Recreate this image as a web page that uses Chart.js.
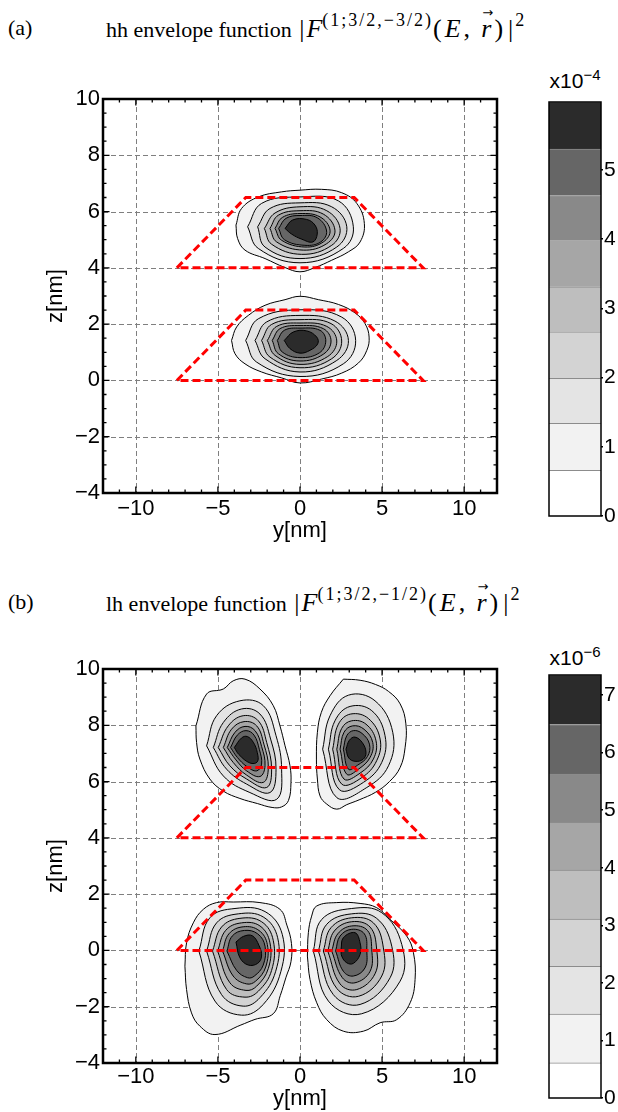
<!DOCTYPE html>
<html lang="en">
<head>
<meta charset="UTF-8">
<title>hh / lh envelope functions</title>
<script src="https://cdn.jsdelivr.net/npm/chart.js@4.4.1/dist/chart.umd.min.js"></script>
<style>
  * { margin: 0; padding: 0; box-sizing: border-box; }
  body { width: 618px; height: 1112px; background: #fff; position: relative; overflow: hidden; }
  canvas { position: absolute; }
  .tag, .ttl {
    position: absolute; white-space: nowrap; line-height: 1; color: #000;
    font-family: 'Liberation Serif', 'Times New Roman', serif; font-size: 22px;
  }
  .ttl .m { font-size: 26px; }
  .ttl .bar { margin: 0 2px; }
  .ttl .ev { letter-spacing: 3px; }
  .ttl sup { font-size: 18px; letter-spacing: 2px; position: relative; top: -11px; vertical-align: baseline; line-height: 0; }
  .ttl .vec { position: relative; display: inline-block; }
  .ttl .arr {
    position: absolute; left: 1px; top: -10px; font-size: 13px; font-style: normal; letter-spacing: 0;
    font-family: 'DejaVu Sans', sans-serif;
  }
  .unit {
    position: absolute; transform: translateX(-50%); white-space: nowrap; line-height: 1;
    font-family: 'Liberation Sans', Arial, sans-serif; font-size: 21px; color: #000;
  }
  .unit sup { font-size: 15px; position: relative; top: -8px; vertical-align: baseline; line-height: 0; }
</style>
</head>
<body>
  <div class="tag" style="left:8px; top:17px;">(a)</div>
  <div class="ttl" style="left:106px; top:16px;">hh envelope function <span class="m"><span class="bar">|</span><i>F</i><sup>(1;3/2,−3/2)</sup><span class="ev">(<i>E</i>,&thinsp;<span class="vec"><i>r</i><span class="arr">→</span></span>)</span><span class="bar">|</span><sup>2</sup></span></div>
  <div class="unit" style="left:575px; top:70px;">x10<sup>−4</sup></div>
  <canvas id="hhPlot" width="518" height="470" style="left:0; top:80px;"></canvas>
  <canvas id="hhBar" width="98" height="470" style="left:520px; top:70px;"></canvas>

  <div class="tag" style="left:8px; top:591px;">(b)</div>
  <div class="ttl" style="left:106px; top:590px;">lh envelope function <span class="m"><span class="bar">|</span><i>F</i><sup>(1;3/2,−1/2)</sup><span class="ev">(<i>E</i>,&thinsp;<span class="vec"><i>r</i><span class="arr">→</span></span>)</span><span class="bar">|</span><sup>2</sup></span></div>
  <div class="unit" style="left:575px; top:647px;">x10<sup>−6</sup></div>
  <canvas id="lhPlot" width="518" height="462" style="left:0; top:650px;"></canvas>
  <canvas id="lhBar" width="98" height="472" style="left:520px; top:640px;"></canvas>

<script>
// axis ticks
const yTicks = [-10, -5, 0, 5, 10];
const zTicks = [-4, -2, 0, 2, 4, 6, 8, 10];
const hhBarTicks = [0, 1, 2, 3, 4, 5];
const lhBarTicks = [0, 1, 2, 3, 4, 5, 6, 7];

// contour levels (colour bar band edges), units 1e-4 and 1e-6
const hhLevels = [0, 0.66, 1.34, 1.99, 2.66, 3.31, 3.98, 4.63, 5.30, 5.98];
const lhLevels = [0, 0.61, 1.46, 2.29, 3.11, 3.96, 4.79, 5.63, 6.49, 7.35];
const bandColors = ['#ffffff', '#f2f2f2', '#e4e4e4', '#d3d3d3', '#bebebe', '#a6a6a6', '#898989', '#666666', '#2b2b2b'];

// red dashed dot outlines [y, z]
const dotLower = [[-7.5, 0], [-3.3, 2.5], [3.3, 2.5], [7.5, 0], [-7.5, 0]];
const dotUpper = [[-7.5, 4], [-3.3, 6.5], [3.3, 6.5], [7.5, 4], [-7.5, 4]];

// contour rings [y, z], outermost first
const hhUpperRings = [
  [[-3.90,5.52],[-3.56,6.11],[-2.54,6.52],[-1.12,6.70],[0,6.76],[1.32,6.79],[2.54,6.67],[3.46,6.29],[3.92,5.58],[3.66,4.92],[2.95,4.57],[1.93,4.27],[0.91,4.01],[0,3.86],[-0.91,4.01],[-2.13,4.33],[-3.35,4.63],[-3.80,5.04]],
  [[-3.19,5.46],[-2.34,6.29],[0,6.52],[2.34,6.38],[3.25,5.46],[2.64,4.69],[0,4.18],[-2.54,4.69]],
  [[-2.58,5.46],[-1.83,6.11],[0,6.31],[1.93,6.17],[2.85,5.46],[2.24,4.74],[0,4.33],[-2.13,4.74]],
  [[-2.17,5.40],[-1.52,5.95],[0,6.17],[1.63,6.03],[2.44,5.40],[1.93,4.80],[0.1,4.48],[-1.73,4.84]],
  [[-1.83,5.40],[-1.32,5.87],[0,6.03],[1.42,5.91],[2.13,5.34],[1.63,4.86],[0.2,4.63],[-1.42,4.92]],
  [[-1.52,5.40],[-1.08,5.79],[0,5.93],[1.22,5.81],[1.83,5.34],[1.42,4.92],[0.3,4.74],[-1.12,4.98]],
  [[-1.30,5.40],[-0.85,5.76],[0,5.86],[1.05,5.78],[1.62,5.31],[1.26,4.92],[0.3,4.80],[-0.95,5.00]],
  [[-0.91,5.40],[-0.45,5.70],[0.41,5.72],[0.91,5.52],[1.05,5.20],[0.78,4.92],[0.1,5.02],[-0.51,5.20]]
];
const hhLowerRings = [
  [[-4.17,1.42],[-3.96,0.95],[-3.35,0.59],[-2.34,0.30],[-1.12,0.09],[0,-0.09],[1.32,0.05],[2.54,0.26],[3.56,0.62],[4.07,1.07],[4.21,1.54],[3.96,2.02],[3.35,2.40],[2.34,2.70],[1.12,2.87],[0,2.99],[-0.91,2.87],[-2.13,2.67],[-3.15,2.31],[-3.86,1.90]],
  [[-3.31,1.42],[-2.54,2.19],[0,2.51],[2.54,2.25],[3.39,1.42],[2.64,0.59],[0,0.14],[-2.64,0.65]],
  [[-2.74,1.42],[-2.03,2.08],[0,2.31],[2.13,2.11],[2.95,1.42],[2.24,0.71],[0,0.30],[-2.13,0.77]],
  [[-2.34,1.42],[-1.73,1.99],[0,2.16],[1.89,2.02],[2.54,1.40],[1.93,0.77],[0,0.45],[-1.83,0.83]],
  [[-1.99,1.42],[-1.42,1.92],[0,2.04],[1.63,1.92],[2.24,1.40],[1.69,0.85],[0,0.57],[-1.52,0.89]],
  [[-1.69,1.42],[-1.22,1.84],[0,1.95],[1.42,1.84],[1.89,1.40],[1.42,0.93],[0,0.69],[-1.32,0.95]],
  [[-1.38,1.42],[-0.96,1.78],[0,1.86],[1.22,1.78],[1.57,1.40],[1.18,0.98],[0,0.81],[-1.08,1.01]],
  [[-0.96,1.42],[-0.41,1.72],[0.41,1.76],[1.02,1.54],[1.08,1.30],[0.61,1.07],[0,0.97],[-0.61,1.13]]
];
const lhUpperLeftRings = [
  [[-6.34,7.98],[-5.69,9.11],[-4.67,9.29],[-4.07,9.58],[-3.35,9.64],[-2.44,9.29],[-1.63,8.70],[-1.22,7.98],[-0.91,7.27],[-0.61,6.56],[-0.55,5.97],[-0.70,5.33],[-1.12,5.10],[-1.70,5.08],[-2.60,5.22],[-3.66,5.40],[-4.67,5.66],[-5.49,6.09],[-6.10,6.80],[-6.30,7.39]],
  [[-5.69,7.27],[-5.08,8.34],[-3.66,8.87],[-2.24,8.70],[-1.46,7.63],[-1.12,6.44],[-1.42,5.37],[-3.05,5.61],[-4.67,6.20]],
  [[-5.28,7.21],[-4.67,8.10],[-3.56,8.58],[-2.44,8.40],[-1.79,7.51],[-1.46,6.44],[-1.83,5.61],[-3.25,5.91],[-4.47,6.44]],
  [[-4.98,7.21],[-4.37,7.98],[-3.46,8.34],[-2.54,8.16],[-2.03,7.39],[-1.73,6.44],[-2.03,5.79],[-3.25,6.09],[-4.27,6.56]],
  [[-4.67,7.21],[-4.17,7.86],[-3.41,8.13],[-2.64,7.98],[-2.20,7.33],[-1.93,6.50],[-2.24,5.97],[-3.25,6.23],[-4.07,6.68]],
  [[-4.43,7.21],[-3.96,7.75],[-3.35,7.96],[-2.74,7.81],[-2.34,7.25],[-2.13,6.56],[-2.44,6.18],[-3.25,6.38],[-3.90,6.77]],
  [[-4.23,7.21],[-3.82,7.65],[-3.29,7.81],[-2.80,7.65],[-2.48,7.15],[-2.34,6.62],[-2.64,6.38],[-3.25,6.54],[-3.82,6.86]],
  [[-4.00,7.21],[-3.56,7.55],[-3.21,7.60],[-2.85,7.40],[-2.60,7.03],[-2.60,6.70],[-3.05,6.66],[-3.72,6.96]]
];
const lhUpperRightRings = [
  [[2.64,9.64],[3.66,9.60],[4.60,9.45],[5.40,9.20],[6.10,8.76],[6.45,8.05],[6.40,7.20],[6.10,6.50],[5.45,6.00],[4.60,5.62],[3.60,5.35],[2.85,5.18],[2.24,5.02],[1.63,5.20],[1.22,5.49],[1.06,6.09],[1.00,6.80],[1.06,7.75],[1.30,8.46],[1.83,9.05]],
  [[1.38,7.15],[1.83,8.34],[2.95,9.07],[4.57,8.87],[5.65,7.75],[5.39,6.56],[4.07,5.79],[2.24,5.43]],
  [[1.73,7.15],[2.13,8.16],[3.05,8.67],[4.37,8.52],[5.18,7.63],[4.98,6.68],[3.86,5.97],[2.40,5.71]],
  [[1.99,7.15],[2.34,8.04],[3.09,8.40],[4.17,8.24],[4.88,7.51],[4.67,6.74],[3.76,6.14],[2.54,5.91]],
  [[2.24,7.15],[2.54,7.89],[3.15,8.16],[4.02,8.04],[4.63,7.45],[4.47,6.80],[3.66,6.30],[2.68,6.09]],
  [[2.44,7.15],[2.68,7.75],[3.21,7.98],[3.90,7.86],[4.43,7.39],[4.27,6.86],[3.56,6.44],[2.85,6.26]],
  [[2.64,7.15],[2.85,7.63],[3.25,7.81],[3.78,7.71],[4.23,7.33],[4.11,6.89],[3.50,6.58],[2.95,6.44]],
  [[2.80,7.15],[3.01,7.47],[3.35,7.58],[3.80,7.38],[4.02,7.03],[3.84,6.79],[3.35,6.72],[2.97,6.84]]
];
const lhLowerLeftRings = [
  [[-7.01,-0.56],[-6.91,0.27],[-6.50,0.98],[-5.89,1.46],[-5.08,1.70],[-4.07,1.72],[-2.44,1.70],[-1.22,1.46],[-0.80,0.90],[-0.52,0.25],[-0.55,-0.40],[-0.85,-0.95],[-1.20,-1.60],[-1.63,-2.25],[-2.74,-2.45],[-3.60,-2.65],[-5.18,-2.99],[-6.10,-2.69],[-6.61,-2.22],[-6.91,-1.39]],
  [[-6.16,-0.02],[-5.49,1.16],[-3.96,1.49],[-2.13,1.38],[-1.08,0.57],[-1.16,-0.74],[-2.24,-1.92],[-3.56,-2.30],[-5.18,-1.80]],
  [[-5.69,-0.02],[-5.08,0.98],[-3.76,1.30],[-2.24,1.19],[-1.36,0.45],[-1.48,-0.74],[-2.44,-1.68],[-3.46,-1.98],[-4.78,-1.57]],
  [[-5.33,-0.02],[-4.78,0.83],[-3.66,1.14],[-2.34,1.02],[-1.63,0.36],[-1.73,-0.71],[-2.54,-1.45],[-3.35,-1.66],[-4.47,-1.39]],
  [[-5.02,-0.02],[-4.53,0.71],[-3.56,0.98],[-2.44,0.87],[-1.83,0.27],[-1.93,-0.64],[-2.64,-1.27],[-3.29,-1.42],[-4.27,-1.15]],
  [[-4.72,-0.02],[-4.33,0.59],[-3.46,0.84],[-2.50,0.71],[-1.99,0.21],[-2.09,-0.59],[-2.70,-1.09],[-3.25,-1.19],[-4.07,-0.91]],
  [[-4.45,-0.02],[-4.13,0.51],[-3.39,0.71],[-2.58,0.59],[-2.13,0.15],[-2.24,-0.52],[-2.78,-0.91],[-3.19,-0.97],[-3.86,-0.71]],
  [[-3.90,0.30],[-3.44,0.50],[-2.90,0.52],[-2.50,0.18],[-2.34,-0.20],[-2.58,-0.46],[-3.15,-0.52],[-3.66,-0.26]]
];
const lhLowerRightRings = [
  [[0.45,-0.20],[0.51,0.63],[0.71,1.22],[1.02,1.58],[2.24,1.70],[3.66,1.67],[4.67,1.52],[5.49,1.10],[6.50,0.51],[6.91,-0.08],[7.01,-1.03],[6.71,-1.86],[5.89,-2.46],[4.88,-2.57],[3.86,-2.87],[2.64,-2.87],[1.63,-2.46],[1.02,-1.86],[0.61,-1.03]],
  [[0.81,-0.02],[1.32,1.10],[3.15,1.49],[4.98,1.34],[6.20,0.21],[6.10,-1.09],[3.76,-2.25],[1.73,-1.80]],
  [[1.12,-0.02],[1.63,0.93],[3.15,1.30],[4.67,1.14],[5.59,0.15],[5.49,-0.97],[3.66,-1.92],[2.03,-1.57]],
  [[1.42,-0.02],[1.89,0.81],[3.15,1.16],[4.47,0.98],[5.08,0.09],[4.98,-0.91],[3.56,-1.63],[2.24,-1.35]],
  [[1.69,-0.02],[2.09,0.69],[3.15,1.02],[4.27,0.83],[4.67,0.04],[4.57,-0.83],[3.46,-1.39],[2.44,-1.19]],
  [[1.93,-0.02],[2.30,0.59],[3.15,0.87],[4.11,0.71],[4.37,0.04],[4.27,-0.74],[3.35,-1.15],[2.58,-0.97]],
  [[2.17,-0.02],[2.44,0.51],[3.15,0.75],[3.92,0.59],[4.07,0.0],[3.96,-0.62],[3.25,-0.91],[2.64,-0.74]],
  [[2.50,0.04],[2.64,0.45],[3.35,0.63],[3.66,0.27],[3.66,-0.14],[3.25,-0.46],[2.85,-0.44],[2.54,-0.20]]
];

const sansFont = "'Liberation Sans', Arial, sans-serif";
Chart.defaults.font.family = sansFont;
Chart.defaults.color = '#000';

const minus = v => (v < 0 ? '\u2212' + Math.abs(v) : String(v));
const toXY = pts => pts.map(p => ({ x: p[0], y: p[1] }));

// filled contour bands: each ring is a closed line filled with its band colour
function ringDatasets(rings) {
  return rings.map((ring, i) => ({
    data: toXY(ring.concat([ring[0]])),
    showLine: true,
    pointRadius: 0,
    borderColor: '#000',
    borderWidth: 1,
    backgroundColor: bandColors[i + 1],
    fill: 'shape',
    tension: 0.4,
    order: 20 - i
  }));
}

function dotDataset(pts) {
  return {
    data: toXY(pts),
    showLine: true,
    pointRadius: 0,
    borderColor: '#ff0000',
    borderWidth: 3,
    borderDash: [8, 4],
    fill: false,
    tension: 0,
    order: 0
  };
}

// dashed grid above the fills, black frame with inward ticks on top
const framePlugin = {
  id: 'frame',
  beforeDatasetsDraw(chart, args, opts) {
    if (!opts.grid) return;
    const { ctx, chartArea: a, scales } = chart;
    ctx.save();
    ctx.strokeStyle = '#7f7f7f';
    ctx.lineWidth = 1;
    ctx.setLineDash([5, 3]);
    ctx.beginPath();
    scales.x.ticks.forEach(t => {
      const p = Math.round(scales.x.getPixelForValue(t.value)) + 0.5;
      ctx.moveTo(p, a.top); ctx.lineTo(p, a.bottom);
    });
    scales.y.ticks.forEach(t => {
      const p = Math.round(scales.y.getPixelForValue(t.value)) + 0.5;
      ctx.moveTo(a.left, p); ctx.lineTo(a.right, p);
    });
    ctx.stroke();
    ctx.restore();
  },
  afterDatasetsDraw(chart, args, opts) {
    const { ctx, chartArea: a, scales } = chart;
    ctx.save();
    ctx.strokeStyle = '#000';
    if (opts.ticks) {
      const mark = (scale, v, len) => {
        const p = scale.getPixelForValue(v);
        if (scale.isHorizontal()) {
          ctx.moveTo(p, a.bottom); ctx.lineTo(p, a.bottom - len);
          ctx.moveTo(p, a.top); ctx.lineTo(p, a.top + len);
        } else {
          ctx.moveTo(a.left, p); ctx.lineTo(a.left + len, p);
          ctx.moveTo(a.right, p); ctx.lineTo(a.right - len, p);
        }
      };
      ctx.lineWidth = 1.3;
      ctx.beginPath();
      [[scales.x, opts.xMinor], [scales.y, opts.yMinor]].forEach(([s, step]) => {
        for (let v = Math.ceil(s.min / step) * step; v <= s.max + 1e-9; v += step) mark(s, v, 3.5);
        s.ticks.forEach(t => mark(s, t.value, 6.5));
      });
      ctx.stroke();
    }
    ctx.lineWidth = opts.lineWidth;
    ctx.strokeRect(a.left, a.top, a.right - a.left, a.bottom - a.top);
    ctx.restore();
  }
};

function contourChart(id, datasets, lay) {
  return new Chart(document.getElementById(id), {
    type: 'scatter',
    data: { datasets },
    options: {
      responsive: false,
      animation: false,
      events: [],
      layout: { padding: { top: 19, right: 21, left: 0, bottom: 0 } },
      plugins: {
        legend: { display: false },
        tooltip: { enabled: false },
        frame: { grid: true, ticks: true, lineWidth: 2.5, xMinor: 1, yMinor: 0.5 }
      },
      scales: {
        x: {
          type: 'linear', min: -12, max: 12,
          afterBuildTicks: s => { s.ticks = yTicks.map(v => ({ value: v })); },
          afterFit: s => { s.height = lay.axisHeight; },
          grid: { display: false, drawTicks: false },
          border: { display: false },
          ticks: { padding: lay.tickPad, maxRotation: 0, autoSkip: false, font: { size: 22 }, callback: minus },
          title: { display: true, text: 'y[nm]', font: { size: 22, lineHeight: 1.2 }, padding: { top: 0, bottom: lay.titlePad } }
        },
        y: {
          type: 'linear', min: -4, max: 10,
          afterBuildTicks: s => { s.ticks = zTicks.map(v => ({ value: v })); },
          afterFit: s => { s.width = 103; },
          grid: { display: false, drawTicks: false },
          border: { display: false },
          ticks: { padding: 3, autoSkip: false, font: { size: 22 }, callback: minus },
          title: { display: true, text: 'z[nm]', font: { size: 22, lineHeight: 1.2 }, padding: { top: 43, bottom: 0 } }
        }
      }
    },
    plugins: [framePlugin]
  });
}

function colorBar(id, levels, tickVals, pad) {
  return new Chart(document.getElementById(id), {
    type: 'bar',
    data: {
      labels: [''],
      datasets: levels.slice(1).map((hi, i) => ({
        data: [[levels[i], hi]],
        backgroundColor: bandColors[i],
        borderColor: '#8c8c8c',
        borderWidth: { top: 1, right: 0, bottom: 0, left: 0 },
        borderSkipped: false,
        grouped: false,
        barPercentage: 1,
        categoryPercentage: 1
      }))
    },
    options: {
      responsive: false,
      animation: false,
      events: [],
      layout: { padding: pad },
      plugins: {
        legend: { display: false },
        tooltip: { enabled: false },
        frame: { grid: false, ticks: false, lineWidth: 1.5 }
      },
      scales: {
        x: { display: false },
        y: {
          position: 'right',
          min: 0, max: levels[levels.length - 1],
          afterBuildTicks: s => { s.ticks = tickVals.map(v => ({ value: v })); },
          afterFit: s => { s.width = 17; },
          grid: { drawOnChartArea: false, drawTicks: true, tickLength: 2, color: '#000', lineWidth: 1.5 },
          border: { display: false },
          ticks: { padding: 1, autoSkip: false, font: { size: 21 } }
        }
      }
    },
    plugins: [framePlugin]
  });
}

contourChart('hhPlot',
  ringDatasets(hhUpperRings).concat(ringDatasets(hhLowerRings), [dotDataset(dotLower), dotDataset(dotUpper)]),
  { axisHeight: 57, tickPad: 3, titlePad: 6 });

contourChart('lhPlot',
  ringDatasets(lhUpperLeftRings).concat(
    ringDatasets(lhUpperRightRings),
    ringDatasets(lhLowerLeftRings),
    ringDatasets(lhLowerRightRings),
    [dotDataset(dotLower), dotDataset(dotUpper)]),
  { axisHeight: 49, tickPad: 1, titlePad: 0 });

colorBar('hhBar', hhLevels, hhBarTicks, { left: 29, top: 32, bottom: 24, right: 0 });
colorBar('lhBar', lhLevels, lhBarTicks, { left: 29, top: 35, bottom: 14, right: 0 });
</script>
</body>
</html>
